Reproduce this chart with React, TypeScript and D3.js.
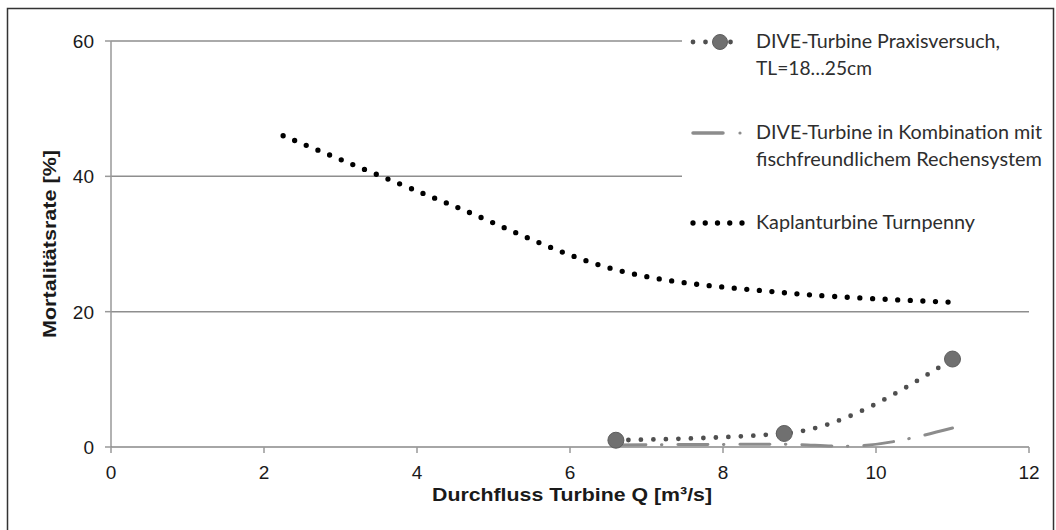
import { useEffect, useRef } from 'react';
import * as d3 from 'd3';

// Kaplanturbine Turnpenny (Excel smoothed line)
const kaplanQ = [2.25, 4.4, 6.6, 8.8, 11];
const kaplanRate = [46, 36, 26.2, 22.8, 21.4];

// DIVE-Turbine Praxisversuch
const praxisQ = [6.6, 8.8, 11];
const praxisRate = [1, 2, 13];

// DIVE-Turbine + fischfreundliches Rechensystem
const kombiQ = [6.6, 8.8, 9.6, 11];
const kombiRate = [0.3, 0.4, 0.1, 2.8];

const xTicks = [0, 2, 4, 6, 8, 10, 12];
const yTicks = [0, 20, 40, 60];

const legendLines = [
  ['DIVE-Turbine Praxisversuch,', 'TL=18…25cm'],
  ['DIVE-Turbine in Kombination mit', 'fischfreundlichem Rechensystem'],
  ['Kaplanturbine Turnpenny'],
];

const W = 1056;
const H = 530;

export default function App() {
  const svgRef = useRef<SVGSVGElement>(null);

  useEffect(() => {
    const svg = d3.select(svgRef.current);
    svg.selectAll('*').remove();

    const x = d3.scaleLinear().domain([0, 12]).range([111, 1029]);
    const y = d3.scaleLinear().domain([0, 60]).range([447, 41]);

    svg.append('rect').attr('width', W).attr('height', H).attr('fill', '#fff');

    // outer frame
    svg.append('rect')
      .attr('x', 7.5).attr('y', 8.5)
      .attr('width', 1046).attr('height', 530)
      .attr('fill', 'none')
      .attr('stroke', '#333')
      .attr('stroke-width', 1.5);

    // gridlines
    svg.append('g')
      .selectAll('line')
      .data(yTicks.filter(d => d > 0))
      .enter()
      .append('line')
      .attr('x1', x(0)).attr('x2', x(12))
      .attr('y1', d => y(d)).attr('y2', d => y(d))
      .attr('stroke', '#8e8e8e')
      .attr('stroke-width', 1.5);

    // y axis
    svg.append('line')
      .attr('x1', x(0)).attr('x2', x(0))
      .attr('y1', y(60)).attr('y2', y(0))
      .attr('stroke', '#999').attr('stroke-width', 1.5);
    yTicks.forEach(t => {
      svg.append('line')
        .attr('x1', x(0) - 6).attr('x2', x(0))
        .attr('y1', y(t)).attr('y2', y(t))
        .attr('stroke', '#999').attr('stroke-width', 1.5);
      svg.append('text')
        .attr('x', 94).attr('y', y(t))
        .attr('dy', '0.36em')
        .attr('text-anchor', 'end')
        .attr('font-family', "'Liberation Sans', Arial, sans-serif")
        .attr('font-size', 19)
        .attr('fill', '#1a1a1a')
        .text(t);
    });

    // x axis
    svg.append('line')
      .attr('x1', x(0)).attr('x2', x(12))
      .attr('y1', y(0)).attr('y2', y(0))
      .attr('stroke', '#888').attr('stroke-width', 1.5);
    xTicks.forEach(t => {
      svg.append('line')
        .attr('x1', x(t)).attr('x2', x(t))
        .attr('y1', y(0)).attr('y2', y(0) + 6)
        .attr('stroke', '#999').attr('stroke-width', 1.5);
      svg.append('text')
        .attr('x', x(t)).attr('y', 472)
        .attr('dy', '0.36em')
        .attr('text-anchor', 'middle')
        .attr('font-family', "'Liberation Sans', Arial, sans-serif")
        .attr('font-size', 19)
        .attr('fill', '#1a1a1a')
        .text(t);
    });

    // axis titles
    svg.append('text')
      .attr('x', 572).attr('y', 501)
      .attr('text-anchor', 'middle')
      .attr('font-family', "'Liberation Sans', Arial, sans-serif")
      .attr('font-weight', 'bold')
      .attr('font-size', 19)
      .attr('fill', '#1a1a1a')
      .attr('textLength', 280)
      .attr('lengthAdjust', 'spacingAndGlyphs')
      .text('Durchfluss Turbine Q [m³/s]');

    svg.append('text')
      .attr('transform', 'translate(56,244) rotate(-90)')
      .attr('text-anchor', 'middle')
      .attr('font-family', "'Liberation Sans', Arial, sans-serif")
      .attr('font-weight', 'bold')
      .attr('font-size', 18)
      .attr('fill', '#1a1a1a')
      .attr('textLength', 188)
      .attr('lengthAdjust', 'spacingAndGlyphs')
      .text('Mortalitätsrate [%]');

    const zip = (a: number[], b: number[]) => a.map((v, i) => [v, b[i]] as [number, number]);

    const smooth = d3.line<[number, number]>()
      .x(d => x(d[0]))
      .y(d => y(d[1]))
      .curve(d3.curveCatmullRom.alpha(0.5));

    const mono = d3.line<[number, number]>()
      .x(d => x(d[0]))
      .y(d => y(d[1]))
      .curve(d3.curveMonotoneX);

    // kombi dash-dot
    svg.append('path')
      .attr('d', mono(zip(kombiQ, kombiRate)))
      .attr('fill', 'none')
      .attr('stroke', '#8c8c8c')
      .attr('stroke-width', 3)
      .attr('stroke-linecap', 'round')
      .attr('stroke-dasharray', '30,15.5,0.5,16');

    // praxis dotted
    svg.append('path')
      .attr('d', mono(zip(praxisQ, praxisRate)))
      .attr('fill', 'none')
      .attr('stroke', '#4f4f4f')
      .attr('stroke-width', 4.8)
      .attr('stroke-linecap', 'round')
      .attr('stroke-dasharray', '0,12.5');

    svg.append('g')
      .selectAll('circle')
      .data(zip(praxisQ, praxisRate))
      .enter()
      .append('circle')
      .attr('cx', d => x(d[0]))
      .attr('cy', d => y(d[1]))
      .attr('r', 8)
      .attr('fill', '#707070')
      .attr('stroke', '#5e5e5e')
      .attr('stroke-width', 1);

    // kaplan dotted
    svg.append('path')
      .attr('d', smooth(zip(kaplanQ, kaplanRate)))
      .attr('fill', 'none')
      .attr('stroke', '#000')
      .attr('stroke-width', 5.3)
      .attr('stroke-linecap', 'round')
      .attr('stroke-dasharray', '0,12.6');

    // legend
    const lg = svg.append('g');
    lg.append('rect')
      .attr('x', 682).attr('y', 26)
      .attr('width', 365).attr('height', 226)
      .attr('fill', '#fff');

    const symY = [42, 133, 223];
    // symbol 1
    lg.append('line')
      .attr('x1', 693).attr('x2', 743).attr('y1', symY[0]).attr('y2', symY[0])
      .attr('stroke', '#4f4f4f').attr('stroke-width', 4.8)
      .attr('stroke-linecap', 'round').attr('stroke-dasharray', '0,12.5');
    lg.append('circle')
      .attr('cx', 720).attr('cy', symY[0]).attr('r', 7.5)
      .attr('fill', '#707070').attr('stroke', '#5e5e5e');
    // symbol 2
    lg.append('line')
      .attr('x1', 693).attr('x2', 723).attr('y1', symY[1]).attr('y2', symY[1])
      .attr('stroke', '#8c8c8c').attr('stroke-width', 3.5).attr('stroke-linecap', 'round');
    lg.append('circle')
      .attr('cx', 740).attr('cy', symY[1]).attr('r', 1.6).attr('fill', '#8c8c8c');
    // symbol 3
    lg.append('line')
      .attr('x1', 693).attr('x2', 743).attr('y1', symY[2]).attr('y2', symY[2])
      .attr('stroke', '#000').attr('stroke-width', 5.3)
      .attr('stroke-linecap', 'round').attr('stroke-dasharray', '0,12.25');

    const textWidths = [[244, 116], [286, 286], [219]];
    legendLines.forEach((lines, i) => {
      lines.forEach((s, j) => {
        lg.append('text')
          .attr('x', 756)
          .attr('y', symY[i] + j * 27)
          .attr('dy', '0.35em')
          .attr('font-family', 'Lato, sans-serif')
          .attr('font-size', 18.5)
          .attr('fill', '#2e2e2e')
          .attr('textLength', textWidths[i][j])
          .attr('lengthAdjust', 'spacingAndGlyphs')
          .text(s);
      });
    });
  }, []);

  return (
    <svg
      ref={svgRef}
      width={W}
      height={H}
      style={{ position: 'absolute', left: 0, top: 0, display: 'block' }}
    />
  );
}
